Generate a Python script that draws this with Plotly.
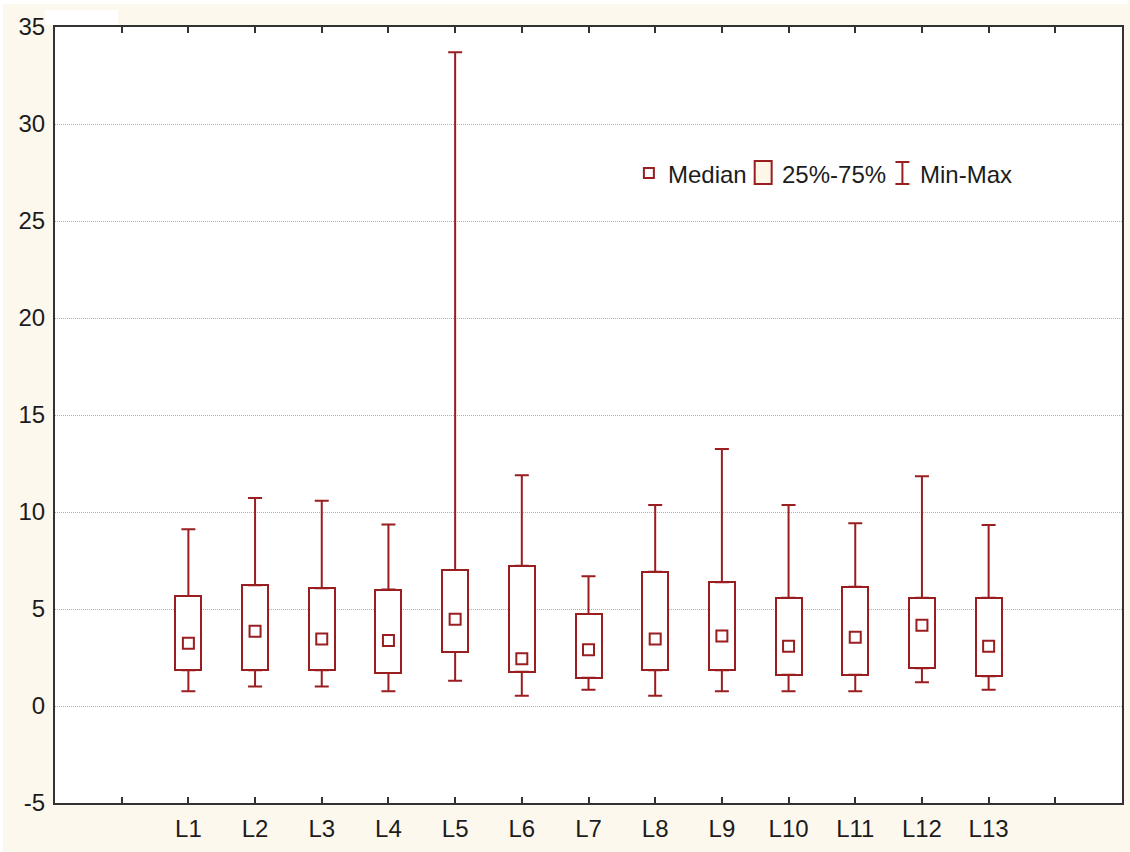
import plotly.graph_objects as go

categories = ["L1", "L2", "L3", "L4", "L5", "L6", "L7", "L8", "L9", "L10", "L11", "L12", "L13"]
minimum = [0.76, 1.00, 1.00, 0.76, 1.30, 0.53, 0.84, 0.53, 0.76, 0.76, 0.76, 1.22, 0.84]
q1 = [1.84, 1.84, 1.84, 1.70, 2.78, 1.77, 1.46, 1.84, 1.84, 1.61, 1.61, 1.94, 1.53]
median = [3.23, 3.85, 3.45, 3.37, 4.47, 2.44, 2.90, 3.45, 3.61, 3.08, 3.54, 4.16, 3.08]
q3 = [5.67, 6.22, 6.07, 6.00, 7.01, 7.23, 4.74, 6.92, 6.38, 5.58, 6.15, 5.58, 5.58]
maximum = [9.11, 10.72, 10.58, 9.35, 33.70, 11.90, 6.69, 10.36, 13.25, 10.36, 9.42, 11.84, 9.33]
y_ticks = [-5, 0, 5, 10, 15, 20, 25, 30, 35]
y_tick_text = ["-5", "0", "5", "10", "15", "20", "25", "30", "35"]

RED = "#9a1d20"
FONT = "Liberation Sans, Arial, sans-serif"
TXT = "#1c1c1c"
FS = 24

xpos = list(range(1, len(categories) + 1))

fig = go.Figure()

# boxes (25%-75%)
fig.add_trace(go.Bar(
    x=xpos, y=[b - a for a, b in zip(q1, q3)], base=q1, width=0.39,
    marker=dict(color="white", line=dict(color=RED, width=2)),
    showlegend=False, hoverinfo="skip",
))
# upper whiskers
fig.add_trace(go.Scatter(
    x=xpos, y=q3, mode="markers", marker=dict(size=1, color="rgba(0,0,0,0)"),
    error_y=dict(type="data", symmetric=False,
                 array=[m - b for m, b in zip(maximum, q3)],
                 arrayminus=[0] * len(q3),
                 color=RED, thickness=2, width=7),
    showlegend=False, hoverinfo="skip",
))
# lower whiskers
fig.add_trace(go.Scatter(
    x=xpos, y=q1, mode="markers", marker=dict(size=1, color="rgba(0,0,0,0)"),
    error_y=dict(type="data", symmetric=False,
                 array=[0] * len(q1),
                 arrayminus=[a - m for a, m in zip(q1, minimum)],
                 color=RED, thickness=2, width=7),
    showlegend=False, hoverinfo="skip",
))
# medians
fig.add_trace(go.Scatter(
    x=xpos, y=median, mode="markers",
    marker=dict(symbol="square-open", size=11, color=RED, line=dict(width=2, color=RED)),
    showlegend=False, hoverinfo="skip",
))

# custom legend
def px2paper(px, py):
    return (px - 55) / 1069, (803 - py) / 776

shapes = []
# small white artefacts of the original screenshot
for (ax0, ay0, ax1, ay1) in ((45, 10, 118, 25), (0, 0, 1130, 4), (0, 0, 3, 852)):
    x0, y0 = px2paper(ax0, ay1); x1, y1 = px2paper(ax1, ay0)
    shapes.append(dict(type="rect", xref="paper", yref="paper", x0=x0, y0=y0, x1=x1, y1=y1,
                       line=dict(width=0), fillcolor="white", layer="below"))

x0, y0 = px2paper(645, 168); x1, y1 = px2paper(655, 178)
shapes.append(dict(type="rect", xref="paper", yref="paper", x0=x0, y0=y0, x1=x1, y1=y1,
                   line=dict(color=RED, width=2), fillcolor="white"))
x0, y0 = px2paper(756, 161); x1, y1 = px2paper(773, 184)
shapes.append(dict(type="rect", xref="paper", yref="paper", x0=x0, y0=y0, x1=x1, y1=y1,
                   line=dict(color=RED, width=2), fillcolor="#fdf6e9"))
xa, ya = px2paper(904, 162); xb, yb = px2paper(904, 184)
shapes.append(dict(type="line", xref="paper", yref="paper", x0=xa, y0=ya, x1=xb, y1=yb,
                   line=dict(color=RED, width=2)))
for py in (162, 184):
    xa, ya = px2paper(897, py); xb, yb = px2paper(911, py)
    shapes.append(dict(type="line", xref="paper", yref="paper", x0=xa, y0=ya, x1=xb, y1=yb,
                       line=dict(color=RED, width=2)))

annotations = []
for label, px in (("Median", 667), ("25%-75%", 781), ("Min-Max", 920)):
    ax, ay = px2paper(px, 174)
    annotations.append(dict(text=label, x=ax, y=ay, xref="paper", yref="paper",
                            xanchor="left", yanchor="middle", showarrow=False,
                            font=dict(family=FONT, size=FS, color=TXT)))

fig.update_layout(
    width=1130, height=852,
    margin=dict(l=55, r=6, t=27, b=49),
    paper_bgcolor="#fdf8ee", plot_bgcolor="white",
    shapes=shapes, annotations=annotations,
    font=dict(family=FONT, size=FS, color=TXT),
    bargap=0,
)
fig.update_xaxes(
    range=[-1, 15], tickmode="array",
    tickvals=list(range(0, 15)),
    ticktext=[""] + categories + [""],
    ticks="inside", ticklen=6, tickwidth=2, tickcolor="#333",
    showline=True, linecolor="#333", linewidth=2, mirror="ticks",
    showgrid=False, zeroline=False, ticklabelstandoff=3,
    tickfont=dict(family=FONT, size=FS, color=TXT),
)
fig.update_yaxes(
    range=[-5, 35], tickmode="array", tickvals=y_ticks, ticktext=y_tick_text,
    ticks="", showline=True, linecolor="#333", linewidth=2, mirror=True,
    showgrid=True, gridcolor="#b0b0b0", gridwidth=1, griddash="1px,1px",
    zeroline=False, ticklabelstandoff=3,
    tickfont=dict(family=FONT, size=FS, color=TXT),
)

fig.write_html("out.html")
